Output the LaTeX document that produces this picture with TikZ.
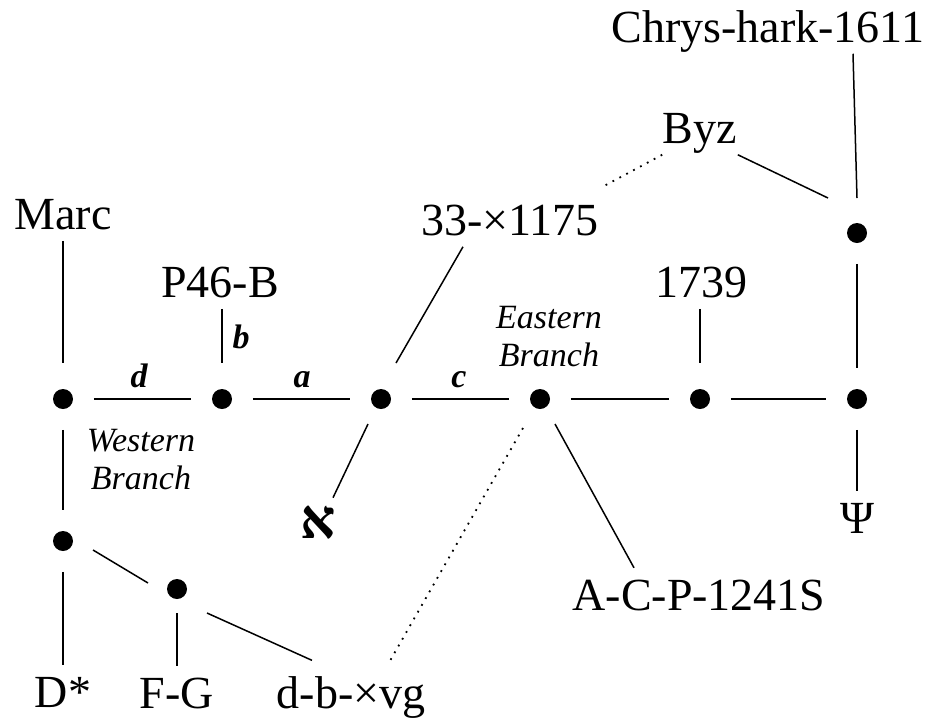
\documentclass[tikz,border=0pt]{standalone}
\usepackage{fontspec}
\setmainfont{Liberation Serif}
\newfontfamily\hebfont{Liberation Serif}
\usetikzlibrary{calc}
\begin{document}
\begin{tikzpicture}[x=1pt,y=-1pt,line width=1.5pt,
  dotn/.style={circle,minimum size=60pt,inner sep=0pt,
    path picture={\fill[black] (path picture bounding box.center) circle[radius=10pt];}},
  txt/.style={font=\fontsize{46}{50}\selectfont,inner xsep=0pt,inner ysep=11pt,text depth=0pt,anchor=base},
  branch/.style={font=\itshape\fontsize{34}{38}\selectfont,align=center,inner sep=0pt,anchor=north},
  elab/.style={font=\bfseries\itshape\fontsize{34}{38}\selectfont,inner sep=0pt,anchor=base},
  dotline/.style={line width=1.8pt,dash pattern=on 1.8pt off 6pt}
]
\path[use as bounding box] (0,0) rectangle (934,721);
% dots
\node[dotn] (w)  at (63,399) {};
\node[dotn] (p)  at (222,399) {};
\node[dotn] (al) at (381,399) {};
\node[dotn] (e)  at (540,399) {};
\node[dotn] (m)  at (700,399) {};
\node[dotn] (r)  at (857,399) {};
\node[dotn] (tr) at (857,233) {};
\node[dotn] (lo) at (63,541) {};
\node[dotn] (fg) at (177,589) {};
% texts
\node[txt] (chrys) at (768,42) {Chrys-hark-1611};
\node[txt] (byz) at (700,143) {Byz};
\node[txt] (marc) at (63,229) {Marc};
\node[txt] (n33) at (510,235) {33-×1175};
\node[txt] (p46) at (220,297) {P46-B};
\node[txt] (t1739) at (701,297) {1739};
\node[txt,font=\hebfont\bfseries\fontsize{55}{60}\selectfont] (aleph) at (318,538) {א};
\node[txt] (psi) at (857,533) {Ψ};
\node[txt] (acp) at (699,610) {A-C-P-1241S};
\node[txt] (dstar) at (63,707) {D*};
\node[txt] (fgt) at (177,708) {F-G};
\node[txt] (dbv) at (351,708) {d-b-×vg};
\node[branch] (east) at (549,305) {Eastern\\Branch};
\node[branch] (west) at (141,428) {Western\\Branch};
% edge labels
\node[elab] (ld) at (139,387) {d};
\node[elab] (la) at (302,387) {a};
\node[elab] (lc) at (459,387) {c};
\node[elab] (lb) at (241,348) {b};
% connectors
\draw (marc.south) -- ($(w)+(0,-36)$);
\draw (w) -- (p);
\draw (p46.south -| p) -- ($(p)+(0,-36)$);
\draw (p) -- (al);
\draw (al) -- (e);
\draw (e) -- (m);
\draw (m) -- (r);
\draw (t1739.south -| m) -- ($(m)+(0,-36)$);
\draw (tr) -- (r);
\draw (r) -- (psi.north);
\draw ([xshift=85pt]chrys.south) -- ($(tr)+(0,-35)$);
\draw (byz.south east) -- ($(tr)+(-29,-35)$);
\draw[dotline] (byz.south west) -- ($(n33.north east)+(3,-6)$);
\draw ($(n33.south)+(-47,0)$) -- ($(al)+(15,-36)$);
\draw ($(al)+(-13,25)$) -- ($(aleph.north)+(15,4)$);
\draw ($(e)+(15,25)$) -- ($(acp.north)+(-65,0)$);
\draw[dotline] ($(e)+(-17,29)$) -- ($(dbv.north)+(37,0)$);
\draw (w) -- (lo);
\draw (lo) -- (dstar.north);
\draw ($(lo)+(30,9)$) -- ($(fg)+(-29,-6)$);
\draw ($(fg)+(0,24)$) -- (fgt.north);
\draw ($(fg)+(30,24)$) -- ($(dbv.north west)+(36,-4)$);
\end{tikzpicture}
\end{document}
